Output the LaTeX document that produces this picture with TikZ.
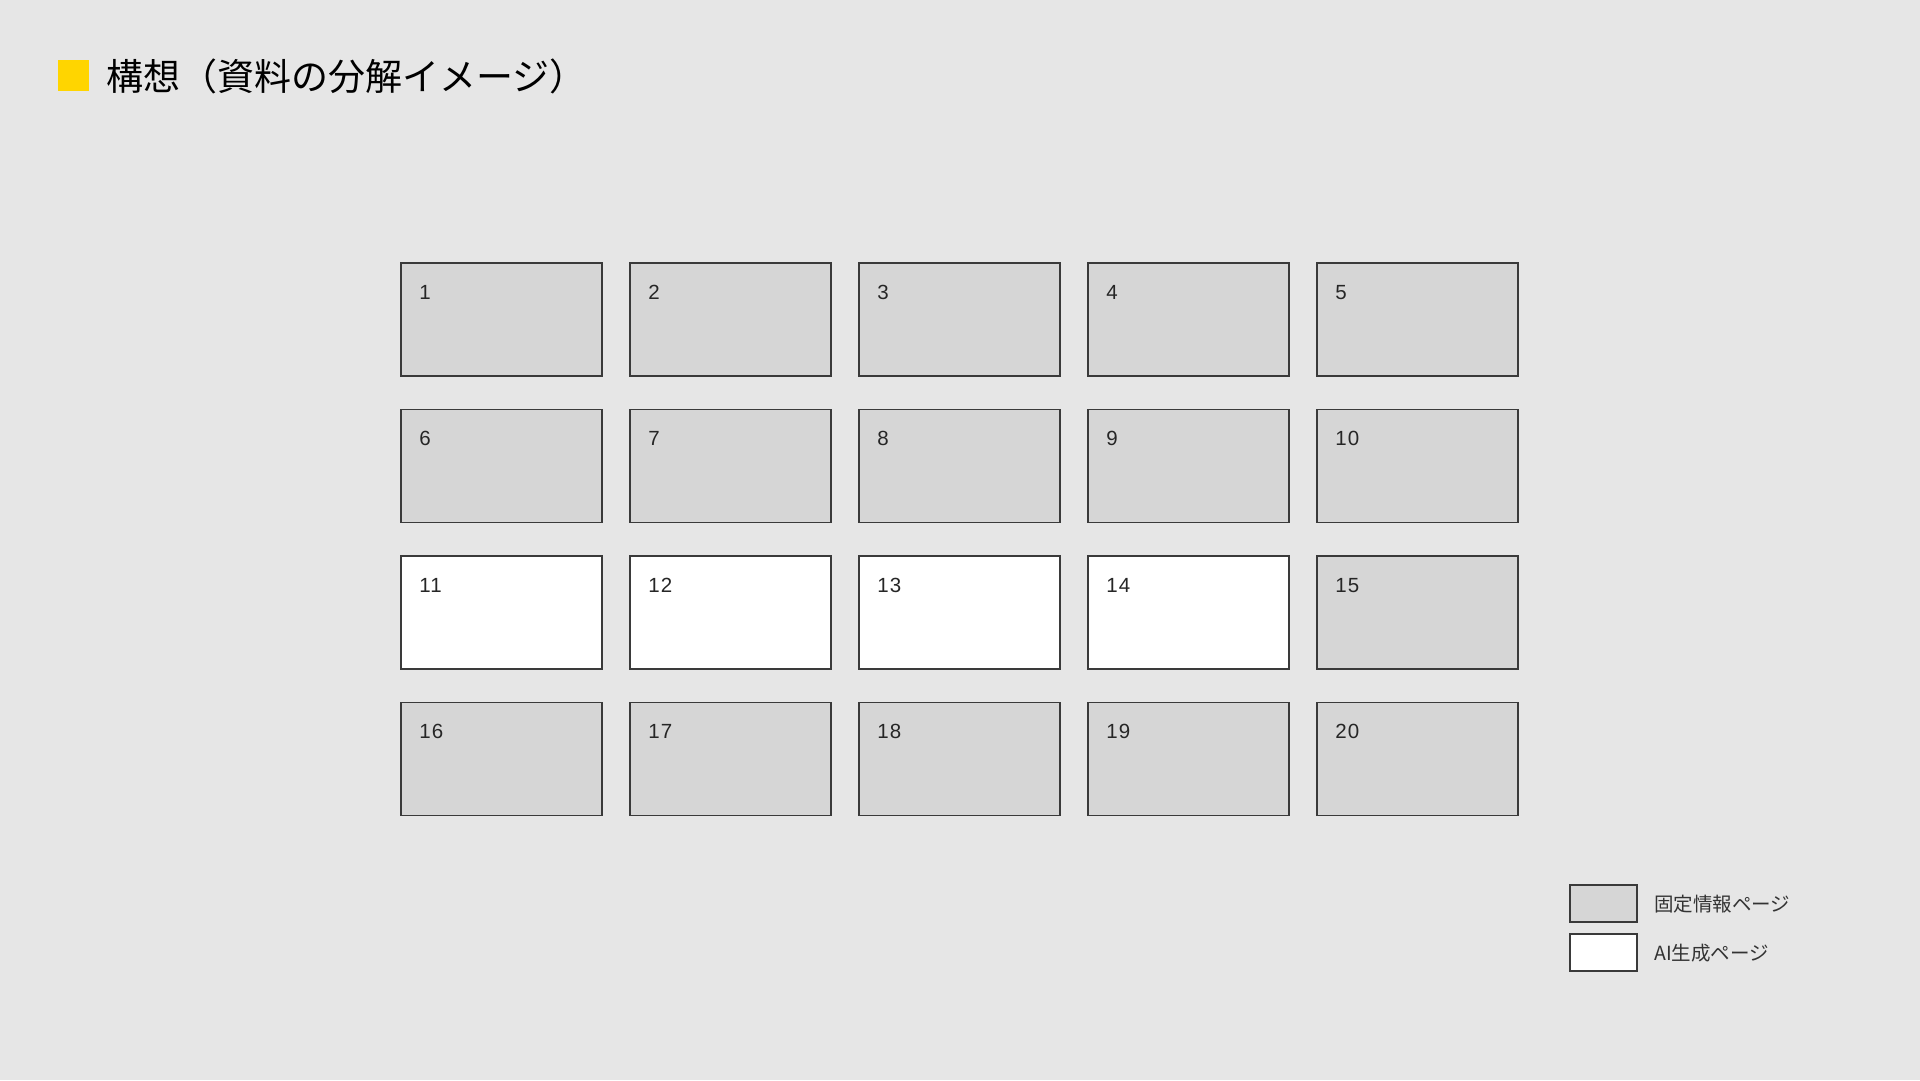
\documentclass[tikz,border=0pt]{standalone}
\usepackage{fontspec}
\setmainfont{Liberation Sans}
\newfontfamily\jpfont{Noto Sans CJK JP}
\newfontfamily\numfont{Liberation Sans}[LetterSpace=5]

\definecolor{bggray}{HTML}{E6E6E6}
\definecolor{pagegray}{HTML}{D6D6D6}
\definecolor{edgegray}{HTML}{3A3A3A}
\definecolor{markyellow}{HTML}{FFD500}

\tikzset{
  fixedpage/.style={draw=edgegray, fill=pagegray, line width=1.6pt, minimum width=201pt, minimum height=113pt, inner sep=0pt},
  aipage/.style={fixedpage, fill=white},
  pagenum/.style={anchor=base west, inner sep=0pt, text=black!85, font=\numfont\fontsize{20.5pt}{24pt}\selectfont},
  keybox/.style={draw=edgegray, line width=1.6pt, minimum width=67pt, minimum height=37pt, inner sep=0pt},
  keytext/.style={anchor=west, inner sep=0pt, text=black!80, font=\jpfont\fontsize{19.5pt}{23pt}\selectfont}
}

\begin{document}
\begin{tikzpicture}[x=1pt, y=-1pt]

  % Page
  \fill[bggray] (0, 0) rectangle (1920, 1080);
  \useasboundingbox (0, 0) rectangle (1920, 1080);

  % Heading
  \node[fill = markyellow, minimum width = 31pt, minimum height = 31pt, inner sep = 0pt] (mark) at (73, 75) {};
  \node[anchor = west, inner sep = 0pt, font = \jpfont\fontsize{37pt}{42pt}\selectfont] (title) at (106, 76) {構想（資料の分解イメージ）};

  % Row 1
  \node[fixedpage] (p1) at (501.5, 319.5) {};
  \node[fixedpage] (p2) at (730.5, 319.5) {};
  \node[fixedpage] (p3) at (959.5, 319.5) {};
  \node[fixedpage] (p4) at (1188.5, 319.5) {};
  \node[fixedpage] (p5) at (1417.5, 319.5) {};

  % Row 2
  \node[fixedpage] (p6) at (501.5, 466) {};
  \node[fixedpage] (p7) at (730.5, 466) {};
  \node[fixedpage] (p8) at (959.5, 466) {};
  \node[fixedpage] (p9) at (1188.5, 466) {};
  \node[fixedpage] (p10) at (1417.5, 466) {};

  % Row 3
  \node[aipage] (p11) at (501.5, 612.5) {};
  \node[aipage] (p12) at (730.5, 612.5) {};
  \node[aipage] (p13) at (959.5, 612.5) {};
  \node[aipage] (p14) at (1188.5, 612.5) {};
  \node[fixedpage] (p15) at (1417.5, 612.5) {};

  % Row 4
  \node[fixedpage] (p16) at (501.5, 759) {};
  \node[fixedpage] (p17) at (730.5, 759) {};
  \node[fixedpage] (p18) at (959.5, 759) {};
  \node[fixedpage] (p19) at (1188.5, 759) {};
  \node[fixedpage] (p20) at (1417.5, 759) {};

  % Page numbers
  \node[pagenum] at ([shift = {(19, 37)}] p1.north west) {1};
  \node[pagenum] at ([shift = {(19, 37)}] p2.north west) {2};
  \node[pagenum] at ([shift = {(19, 37)}] p3.north west) {3};
  \node[pagenum] at ([shift = {(19, 37)}] p4.north west) {4};
  \node[pagenum] at ([shift = {(19, 37)}] p5.north west) {5};
  \node[pagenum] at ([shift = {(19, 37)}] p6.north west) {6};
  \node[pagenum] at ([shift = {(19, 37)}] p7.north west) {7};
  \node[pagenum] at ([shift = {(19, 37)}] p8.north west) {8};
  \node[pagenum] at ([shift = {(19, 37)}] p9.north west) {9};
  \node[pagenum] at ([shift = {(19, 37)}] p10.north west) {10};
  \node[pagenum] at ([shift = {(19, 37)}] p11.north west) {11};
  \node[pagenum] at ([shift = {(19, 37)}] p12.north west) {12};
  \node[pagenum] at ([shift = {(19, 37)}] p13.north west) {13};
  \node[pagenum] at ([shift = {(19, 37)}] p14.north west) {14};
  \node[pagenum] at ([shift = {(19, 37)}] p15.north west) {15};
  \node[pagenum] at ([shift = {(19, 37)}] p16.north west) {16};
  \node[pagenum] at ([shift = {(19, 37)}] p17.north west) {17};
  \node[pagenum] at ([shift = {(19, 37)}] p18.north west) {18};
  \node[pagenum] at ([shift = {(19, 37)}] p19.north west) {19};
  \node[pagenum] at ([shift = {(19, 37)}] p20.north west) {20};

  % Legend
  \node[keybox, fill = pagegray] (fixedkey) at (1603.5, 903.5) {};
  \node[keybox, fill = white] (aikey) at (1603.5, 952.5) {};
  \node[keytext] (fixedlabel) at (1654, 904) {固定情報ページ};
  \node[keytext] (ailabel) at (1654, 953) {AI生成ページ};

\end{tikzpicture}
\end{document}
